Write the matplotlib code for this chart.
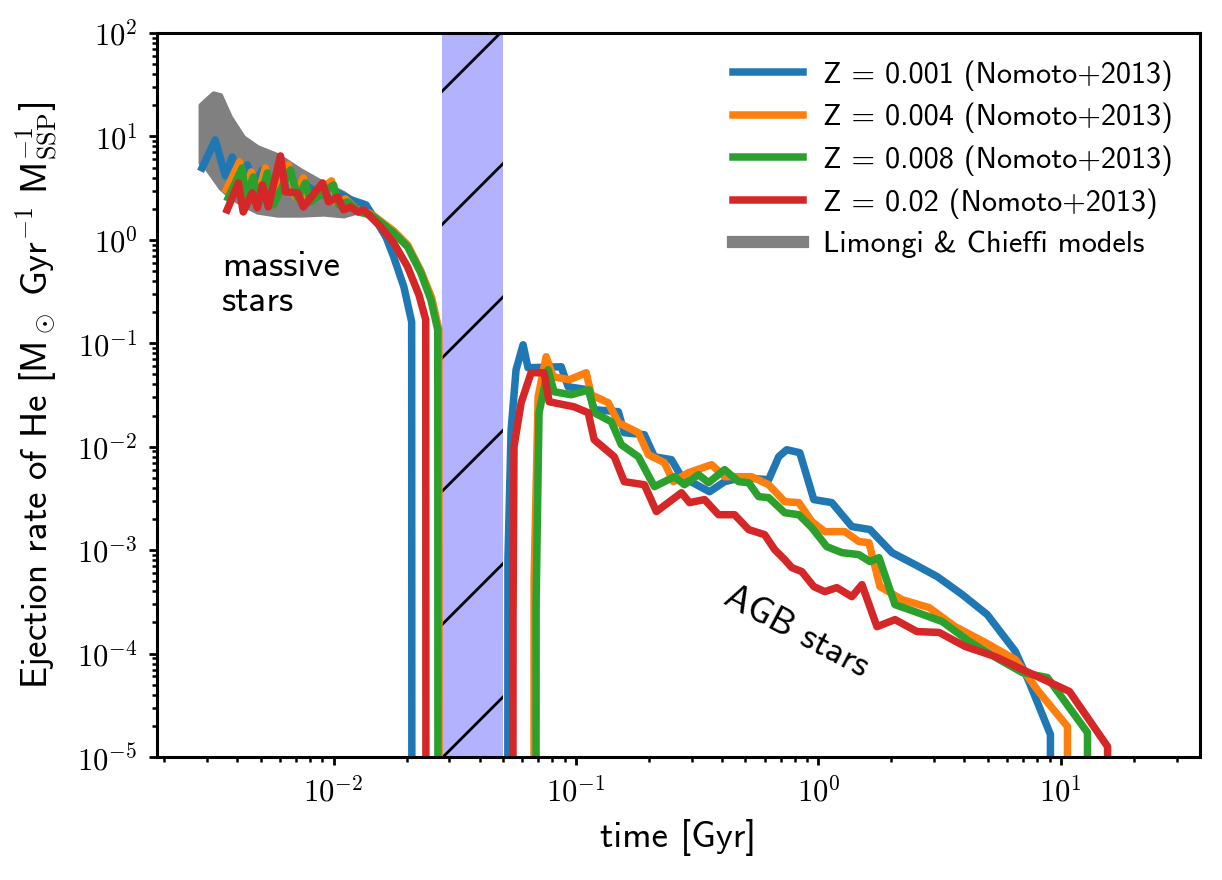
import numpy as np
import matplotlib.pyplot as plt
from matplotlib.lines import Line2D
from matplotlib.ticker import FuncFormatter, NullFormatter

plt.rcParams.update({
    'font.family': 'cmss10',
    'mathtext.fontset': 'cm',
    'axes.unicode_minus': False,
    'axes.linewidth': 0.55,
    'hatch.linewidth': 0.5,
    'xtick.major.size': 1.5, 'ytick.major.size': 1.5,
    'xtick.minor.size': 0.9, 'ytick.minor.size': 0.9,
    'xtick.major.width': 0.5, 'ytick.major.width': 0.5,
    'xtick.minor.width': 0.45, 'ytick.minor.width': 0.45,
})

# Data: time [Gyr] and He ejection rate, zero marks the gap between phases
t_z001 = [0.00287, 0.00325, 0.00358, 0.00382, 0.00413, 0.00441, 0.00471, 0.00509, 0.00549,
          0.00604, 0.00664, 0.00766, 0.00884, 0.0102, 0.0118, 0.0136, 0.0152, 0.0165, 0.0177,
          0.0195, 0.0210, 0.030,
          0.0524, 0.0540, 0.0566, 0.0605, 0.0634, 0.0869, 0.0928, 0.1123, 0.1189, 0.1495,
          0.1582, 0.1915, 0.2106, 0.2476, 0.2723, 0.3556, 0.4102, 0.4822, 0.6235, 0.6858,
          0.7401, 0.8378, 0.9572, 1.136, 1.374, 1.632, 2.012, 2.504, 3.089, 3.918, 4.970,
          6.490, 7.416, 9.058, 9.5]
r_z001 = [4.96, 9.25, 4.15, 6.34, 3.63, 5.30, 3.40, 4.75, 3.18,
          4.25, 3.04, 3.40, 2.72, 2.91, 2.44, 2.18, 1.45, 1.05, 0.685,
          0.351, 0.161, 0.0,
          8.1e-4, 0.0146, 0.0555, 0.0967, 0.0580, 0.0593, 0.0380, 0.0355, 0.0228, 0.0218,
          0.01366, 0.01306, 0.00800, 0.00749, 0.00513, 0.00367, 0.00459, 0.00502, 0.00480, 0.00800,
          0.00935, 0.00875, 0.00308, 0.00288, 0.00169, 0.00158, 0.000946, 0.000724, 0.000555,
          0.000372, 0.000238, 0.000105, 5.24e-5, 1.65e-5, 0.0]

t_z004 = [0.00361, 0.00409, 0.00424, 0.00458, 0.00480, 0.00523, 0.00554, 0.00651, 0.00696,
          0.00751, 0.00788, 0.00981, 0.01029, 0.01121, 0.01245, 0.01395, 0.01464, 0.0177,
          0.0202, 0.0229, 0.0254, 0.0272, 0.040,
          0.0672, 0.0698, 0.0753, 0.0805, 0.0937, 0.1102, 0.1156, 0.1359, 0.1495, 0.1808,
          0.1989, 0.2316, 0.2523, 0.2911, 0.3624, 0.4102, 0.5304, 0.6235, 0.7261, 0.8299,
          0.9391, 1.063, 1.286, 1.469, 1.616, 1.795, 2.213, 2.861, 3.666, 4.877, 6.490,
          8.157, 10.65, 11.0]
r_z004 = [3.04, 5.67, 2.72, 4.54, 2.33, 4.96, 2.33, 5.30, 2.60,
          3.97, 2.44, 3.72, 2.28, 2.49, 1.95, 1.82, 1.71, 1.22,
          0.895, 0.502, 0.275, 0.135, 0.0,
          5.2e-4, 0.0304, 0.0741, 0.0475, 0.0444, 0.0519, 0.0318, 0.0266, 0.01706, 0.01366,
          0.00837, 0.00700, 0.00459, 0.00561, 0.00670, 0.00513, 0.00513, 0.00429, 0.00294, 0.00288,
          0.00189, 0.00151, 0.00151, 0.00121, 0.00118, 0.000444, 0.000332, 0.000278, 0.000182,
          0.000128, 8.75e-5, 4.20e-5, 1.97e-5, 0.0]

t_z008 = [0.00368, 0.00420, 0.00433, 0.00467, 0.00490, 0.00533, 0.00565, 0.00664, 0.00710,
          0.00766, 0.00803, 0.0100, 0.01049, 0.01143, 0.01269, 0.01422, 0.01464, 0.0177,
          0.0202, 0.0229, 0.0252, 0.0269, 0.040,
          0.0685, 0.0704, 0.0767, 0.0812, 0.0955, 0.1134, 0.1189, 0.1399, 0.1538, 0.1808,
          0.2106, 0.2547, 0.2802, 0.3203, 0.3522, 0.4102, 0.4686, 0.5155, 0.5668, 0.6235,
          0.7261, 0.8299, 0.9391, 1.083, 1.250, 1.469, 1.632, 1.778, 2.070, 2.504, 3.239,
          4.188, 5.572, 6.937, 8.803, 12.88, 13.5]
r_z008 = [2.55, 4.96, 2.55, 4.06, 2.18, 4.44, 2.18, 4.75, 2.55,
          3.55, 2.33, 3.40, 2.18, 2.33, 1.86, 1.74, 1.67, 1.17,
          0.856, 0.48, 0.263, 0.135, 0.0,
          3.3e-4, 0.0213, 0.0555, 0.0340, 0.0318, 0.0355, 0.0213, 0.01744, 0.01045, 0.00800,
          0.00411, 0.00513, 0.00429, 0.00537, 0.00449, 0.00600, 0.00459, 0.00449, 0.00329, 0.00322,
          0.00230, 0.00220, 0.00165, 0.00108, 0.000946, 0.000905, 0.000774, 0.000846, 0.000297,
          0.000254, 0.000204, 0.000131, 8.75e-5, 6.55e-5, 5.86e-5, 1.72e-5, 0.0]

t_z02 = [0.00364, 0.00405, 0.00424, 0.00462, 0.00485, 0.00509, 0.00538, 0.00604, 0.00633,
         0.00710, 0.00751, 0.00901, 0.00953, 0.01039, 0.0110, 0.01176, 0.01257, 0.01331,
         0.01564, 0.0177, 0.0202, 0.0225, 0.0240, 0.035,
         0.0550, 0.0555, 0.0594, 0.0653, 0.0739, 0.0775, 0.0983, 0.1123, 0.1189, 0.1439,
         0.1582, 0.1915, 0.2146, 0.2723, 0.2939, 0.3391, 0.3873, 0.4511, 0.5155, 0.6001,
         0.6603, 0.7261, 0.7762, 0.8539, 0.9572, 1.063, 1.191, 1.374, 1.512, 1.744, 2.070,
         2.552, 3.148, 4.032, 5.364, 6.937, 10.85, 15.59, 16.5]
r_z02 = [1.95, 3.55, 1.86, 2.85, 2.04, 3.40, 2.08, 6.48, 2.91,
         2.85, 2.08, 3.55, 2.33, 2.60, 1.95, 2.08, 1.86, 1.95,
         1.34, 0.935, 0.548, 0.294, 0.169, 0.0,
         2.1e-4, 0.0100, 0.0266, 0.0519, 0.0519, 0.0272, 0.0243, 0.0213, 0.01168, 0.00800,
         0.00459, 0.00429, 0.00236, 0.00359, 0.00288, 0.00308, 0.00220, 0.00220, 0.00158, 0.00141,
         0.00101, 0.000809, 0.000678, 0.000620, 0.000444, 0.000397, 0.000434, 0.000355, 0.000464,
         0.000182, 0.000213, 0.000163, 0.000160, 0.000117, 9.35e-5, 7.01e-5, 4.30e-5, 1.26e-5, 0.0]

# Limongi & Chieffi envelope
lc_time = [2.82e-3, 2.96e-3, 3.19e-3, 3.41e-3, 3.75e-3, 4.24e-3, 4.85e-3, 5.87e-3,
           7.30e-3, 9.09e-3, 1.10e-2, 1.33e-2]
lc_upper = [20.2, 22.5, 26.3, 25.2, 15.4, 9.89, 7.92, 6.63, 4.75, 3.55, 2.85, 2.08]
lc_lower = [5.55, 5.07, 3.97, 3.18, 2.60, 2.18, 1.86, 1.74, 1.74, 1.78, 1.71, 1.95]

labels = ['Z = 0.001 (Nomoto+2013)', 'Z = 0.004 (Nomoto+2013)',
          'Z = 0.008 (Nomoto+2013)', 'Z = 0.02 (Nomoto+2013)']
series = [(t_z001, r_z001), (t_z004, r_z004), (t_z008, r_z008), (t_z02, r_z02)]
colors = ['#1f77b4', '#ff7f0e', '#2ca02c', '#d62728']

band = (0.028, 0.05)

fig = plt.figure(figsize=(3.055, 2.2), dpi=400)
ax = fig.add_axes([0.1285, 0.1398, 0.8535, 0.8227])
ax.set_xscale('log')
ax.set_yscale('log')

ax.fill_between(lc_time, lc_lower, lc_upper, color='gray', lw=0.8, zorder=1)
handles = []
for (t, r), c, lab in zip(series, colors, labels):
    h, = ax.plot(t, r, color=c, lw=1.35, label=lab, zorder=2)
    handles.append(h)
handles.append(Line2D([], [], color='gray', lw=2.2))

ax.axvspan(band[0], band[1], facecolor=(0, 0, 1, 0.3), lw=0, hatch='/', zorder=0)

ax.set_xlim(1.87e-3, 37.5)
ax.set_ylim(1e-5, 1e2)

fmt = FuncFormatter(lambda v, pos: r'$10^{%d}$' % int(round(np.log10(v))))
for axis in (ax.xaxis, ax.yaxis):
    axis.set_major_formatter(fmt)
    axis.set_minor_formatter(NullFormatter())
ax.tick_params(labelsize=5.5, pad=2)

ax.set_xlabel('time [Gyr]', fontsize=6.66, labelpad=2)
ax.set_ylabel(r'Ejection rate of He [$\mathsf{M}_\odot\ \mathsf{Gyr}^{-1}\ '
              r'\mathsf{M}_{\mathrm{SSP}}^{-1}$]', fontsize=6.66, labelpad=3)

ax.text(3.475e-3, 0.203, 'massive\nstars', fontsize=6.66, ha='left', va='baseline',
        linespacing=1.1)
ax.text(0.814, 1.63e-4, 'AGB stars', fontsize=6.66, ha='center', va='center', rotation=-28)

ax.legend(handles, labels + ['Limongi & Chieffi models'], loc='upper right', frameon=False,
          fontsize=5.45, handlelength=2.3, handletextpad=0.66, labelspacing=0.4)

fig.savefig('out.png', dpi=400)
